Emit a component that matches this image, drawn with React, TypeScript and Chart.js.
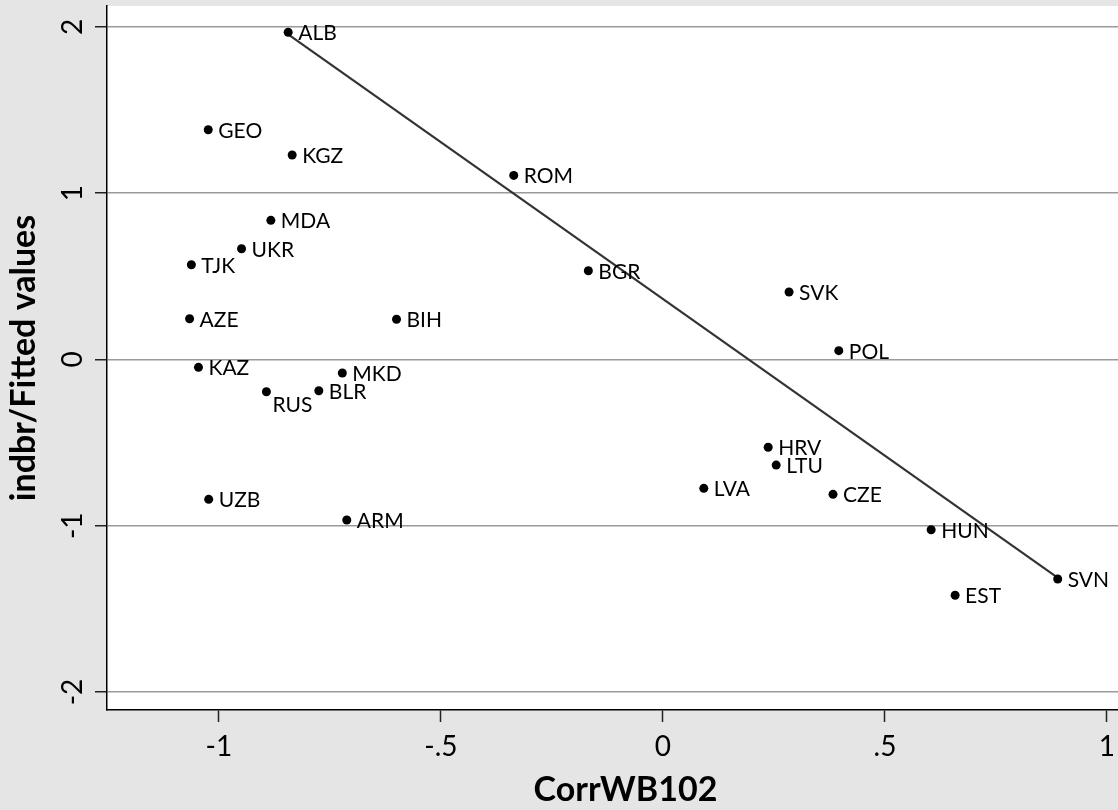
import React, { useEffect, useRef } from 'react';
import { Chart, registerables } from 'chart.js';

Chart.register(...registerables);

// ---- data ----
const countries = ['ALB', 'GEO', 'KGZ', 'ROM', 'MDA', 'UKR', 'TJK', 'BGR', 'SVK', 'AZE', 'BIH', 'POL', 'KAZ', 'MKD', 'RUS', 'BLR', 'HRV', 'LTU', 'LVA', 'CZE', 'UZB', 'ARM', 'HUN', 'SVN', 'EST'];
const corrWB102 = [-0.844, -1.024, -0.835, -0.336, -0.883, -0.949, -1.062, -0.168, 0.284, -1.066, -0.6, 0.396, -1.046, -0.722, -0.893, -0.775, 0.237, 0.255, 0.092, 0.383, -1.023, -0.712, 0.604, 0.889, 0.658];
const indbr = [1.968, 1.382, 1.23, 1.107, 0.837, 0.666, 0.57, 0.534, 0.406, 0.245, 0.242, 0.053, -0.047, -0.081, -0.194, -0.188, -0.528, -0.635, -0.775, -0.811, -0.841, -0.965, -1.024, -1.32, -1.418];
// marker label clock positions (Stata mlabvposition style)
const labelClock = [3, 3, 3, 3, 3, 3, 3, 3, 3, 3, 3, 3, 3, 3, 4, 3, 3, 3, 3, 3, 3, 3, 3, 3, 3];
const fittedX = [-0.844, 0.888];
const fittedY = [1.955, -1.31];
const xTickValues = [-1, -0.5, 0, 0.5, 1];
const xTickLabels = ['-1', '-.5', '0', '.5', '1'];
const yTickValues = [-2, -1, 0, 1, 2];
const yTickLabels = ['-2', '-1', '0', '1', '2'];
const xTitle = 'CorrWB102';
const yTitle = 'indbr/Fitted values';

const FONT = 'Lato';

const bgPlugin = {
  id: 'bgPlugin',
  beforeDraw(chart: any) {
    const { ctx, chartArea, width, height } = chart;
    ctx.save();
    ctx.fillStyle = '#e5e5e5';
    ctx.fillRect(0, 0, width, height);
    ctx.fillStyle = '#ffffff';
    ctx.fillRect(chartArea.left, chartArea.top, chartArea.right - chartArea.left, chartArea.bottom - chartArea.top);
    ctx.restore();
  },
};

const labelPlugin = {
  id: 'labelPlugin',
  afterDatasetsDraw(chart: any) {
    const meta = chart.getDatasetMeta(0);
    const ctx = chart.ctx;
    ctx.save();
    ctx.font = `21px ${FONT}`;
    ctx.fillStyle = '#000';
    ctx.textAlign = 'left';
    ctx.textBaseline = 'alphabetic';
    meta.data.forEach((pt: any, i: number) => {
      const pos = labelClock[i];
      let dx = 10;
      let dy = 8;
      if (pos === 4) {
        dx = 6;
        dy = 20;
      }
      ctx.fillText(countries[i], pt.x + dx, pt.y + dy);
    });
    ctx.restore();
  },
};

// x-axis title, centred on the (wider, cropped) plot region as in the source graph
const xTitlePlugin = {
  id: 'xTitlePlugin',
  afterDraw(chart: any) {
    const { ctx, chartArea } = chart;
    const xScale = chart.scales.x;
    ctx.save();
    ctx.font = `bold 34px ${FONT}`;
    ctx.fillStyle = '#000';
    ctx.textAlign = 'center';
    ctx.textBaseline = 'alphabetic';
    const cx = (chartArea.left + chartArea.right) / 2 + 13;
    ctx.fillText(xTitle, cx, xScale.bottom - 9);
    ctx.restore();
  },
};

export default function App() {
  const canvasRef = useRef<HTMLCanvasElement | null>(null);

  useEffect(() => {
    let chart: Chart | null = null;
    let cancelled = false;
    document.body.style.margin = '0';

    const build = () => {
      if (cancelled || !canvasRef.current) return;
      chart = new Chart(canvasRef.current, {
        type: 'scatter',
        data: {
          datasets: [
            {
              label: 'indbr',
              data: corrWB102.map((x, i) => ({ x, y: indbr[i] })),
              backgroundColor: '#000',
              borderColor: '#000',
              borderWidth: 0,
              pointRadius: 4.5,
              showLine: false,
            },
            {
              label: 'Fitted values',
              data: fittedX.map((x, i) => ({ x, y: fittedY[i] })),
              showLine: true,
              borderColor: '#333333',
              borderWidth: 2.2,
              pointRadius: 0,
              fill: false,
            },
          ],
        },
        options: {
          responsive: false,
          animation: false,
          layout: { autoPadding: false, padding: { top: 6, left: 0, right: 0, bottom: 0 } },
          plugins: {
            legend: { display: false },
            tooltip: { enabled: false },
          },
          scales: {
            x: {
              type: 'linear',
              min: -1.252,
              max: 1.0248,
              afterBuildTicks(scale: any) {
                scale.ticks = xTickValues.map((v) => ({ value: v }));
              },
              afterFit(scale: any) {
                scale.height = 100;
                scale.paddingLeft = 0;
                scale.paddingRight = 0;
              },
              ticks: {
                autoSkip: false,
                maxRotation: 0,
                minRotation: 0,
                padding: 8,
                color: '#000',
                font: { family: FONT, size: 28 },
                callback: (value: any) => {
                  const idx = xTickValues.indexOf(Number(value));
                  return idx >= 0 ? xTickLabels[idx] : '';
                },
              },
              grid: {
                drawOnChartArea: false,
                drawTicks: true,
                tickLength: 12,
                tickColor: '#222',
                tickWidth: 1.5,
              },
              border: { display: true, color: '#000', width: 1.5 },
              title: { display: false },
            },
            y: {
              type: 'linear',
              min: -2.108,
              max: 2.126,
              afterBuildTicks(scale: any) {
                scale.ticks = yTickValues.map((v) => ({ value: v }));
              },
              afterFit(scale: any) {
                scale.width = 107;
                scale.paddingTop = 0;
                scale.paddingBottom = 0;
              },
              ticks: {
                autoSkip: false,
                minRotation: 90,
                maxRotation: 90,
                crossAlign: 'center',
                padding: 9,
                color: '#000',
                font: { family: FONT, size: 28 },
                callback: (value: any) => {
                  const idx = yTickValues.indexOf(Number(value));
                  return idx >= 0 ? yTickLabels[idx] : '';
                },
              },
              grid: {
                color: '#9a9a9a',
                lineWidth: 1.5,
                drawTicks: true,
                tickLength: 12,
                tickColor: '#222',
                tickWidth: 1.5,
              },
              border: { display: true, color: '#000', width: 1.5 },
              title: {
                display: true,
                text: yTitle,
                color: '#000',
                font: { family: FONT, size: 34, weight: 'bold', lineHeight: 1.1 },
                padding: { top: 5, bottom: 0 },
              },
            },
          },
        },
        plugins: [bgPlugin, labelPlugin, xTitlePlugin],
      } as any);
    };

    const fontsApi: any = (document as any).fonts;
    if (fontsApi && fontsApi.load) {
      Promise.all([
        fontsApi.load(`21px ${FONT}`),
        fontsApi.load(`28px ${FONT}`),
        fontsApi.load(`bold 34px ${FONT}`),
      ])
        .catch(() => undefined)
        .then(build);
    } else {
      build();
    }

    return () => {
      cancelled = true;
      if (chart) chart.destroy();
    };
  }, []);

  return (
    <div style={{ position: 'absolute', left: 0, top: 0, width: 1118, height: 810, background: '#e5e5e5' }}>
      <canvas ref={canvasRef} width={1118} height={810} style={{ display: 'block' }} />
    </div>
  );
}
